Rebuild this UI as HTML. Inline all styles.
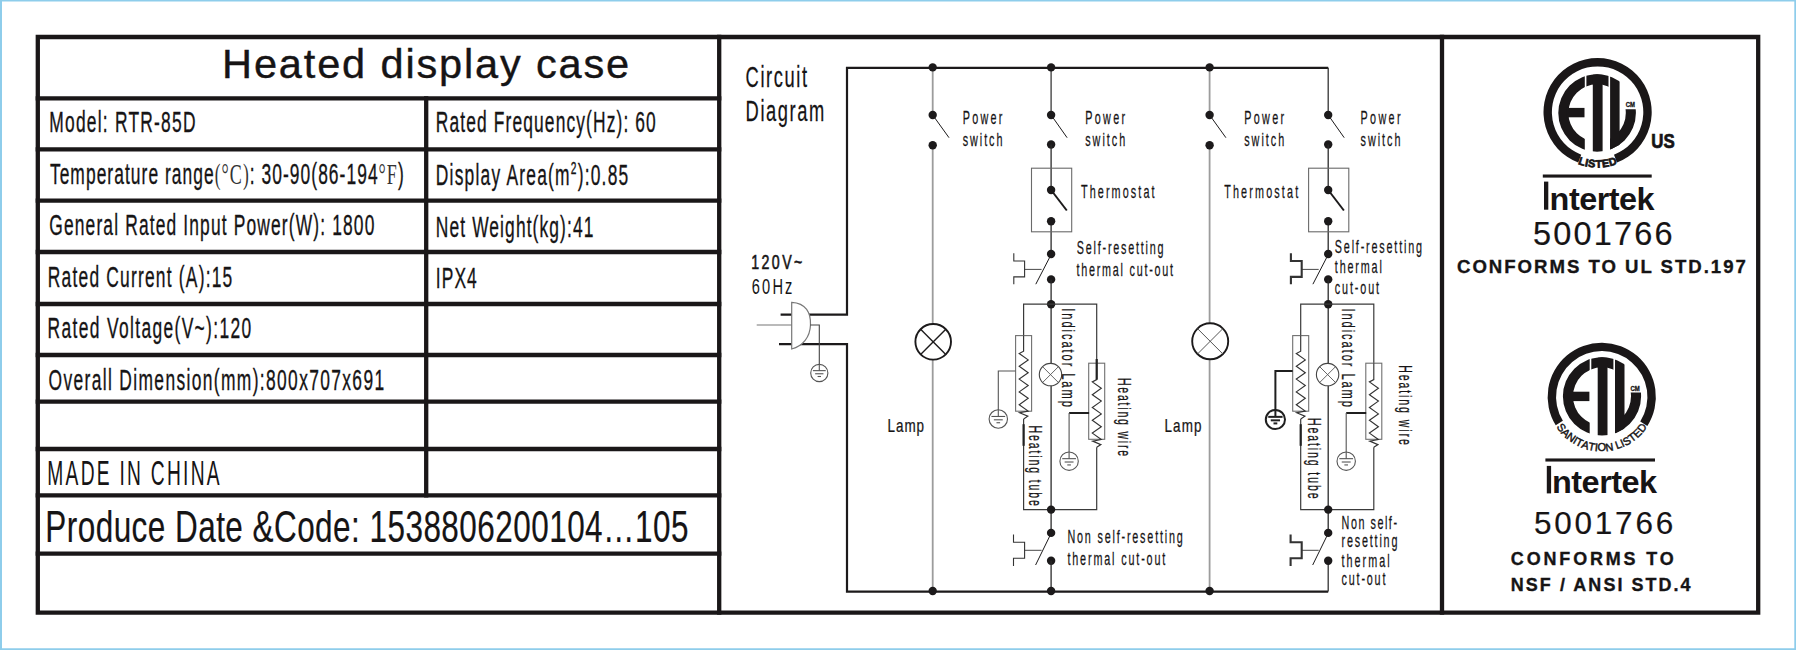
<!DOCTYPE html>
<html><head><meta charset="utf-8">
<style>
html,body{margin:0;padding:0;background:#fff;}
svg{display:block;}
text{font-family:"Liberation Sans",sans-serif;fill:#161415;}
.serif{font-family:"Liberation Serif",serif;}
.b{font-weight:bold;}
</style></head>
<body>
<svg width="1796" height="650" viewBox="0 0 1796 650">
<rect x="0" y="0" width="1796" height="650" fill="#ffffff"/>
<path d="M0 0H1796V650H0Z M2 1.6V648.2H1794.3V1.6Z" fill="#8ecdeb" fill-rule="evenodd"/>
<g stroke="#1a1718" stroke-width="4.3" fill="none" stroke-linecap="square">
<path d="M37.8 37H1758.2V612.6H37.8Z"/>
<path d="M719.2 37V612.6"/>
<path d="M1442 37V612.6"/>
<path d="M426.2 98.3V495.4"/>
<path d="M37.8 98.3H719.2"/>
<path d="M37.8 149.3H719.2"/>
<path d="M37.8 200.6H719.2"/>
<path d="M37.8 252H719.2"/>
<path d="M37.8 304H719.2"/>
<path d="M37.8 355H719.2"/>
<path d="M37.8 401.6H719.2"/>
<path d="M37.8 449H719.2"/>
<path d="M37.8 495.4H719.2"/>
<path d="M37.8 553.6H719.2"/>
</g>
<text x="222.10" y="77.60" font-size="41.5" textLength="407.10" lengthAdjust="spacing" stroke="#161415" stroke-width="0.4">Heated display case</text>
<text transform="translate(49.30,131.50) scale(0.6,1)" font-size="29" textLength="243.67" lengthAdjust="spacing" stroke="#161415" stroke-width="0.35">Model: RTR-85D</text>
<text transform="translate(435.80,132.30) scale(0.6,1)" font-size="29" textLength="366.67" lengthAdjust="spacing" stroke="#161415" stroke-width="0.35">Rated Frequency(Hz): 60</text>
<text transform="translate(49.90,183.80) scale(0.6,1)" font-size="29" textLength="589.67" lengthAdjust="spacing" stroke="#161415" stroke-width="0.35">Temperature range<tspan class="serif" fill="#333" stroke-width="0">(</tspan><tspan class="serif" font-size="30" fill="#333" stroke-width="0">°C</tspan><tspan class="serif" fill="#333" stroke-width="0">)</tspan>: 30-90(86-194<tspan class="serif" font-size="30" fill="#333" stroke-width="0">°F</tspan>)</text>
<text transform="translate(435.80,184.60) scale(0.6,1)" font-size="29" textLength="320.67" lengthAdjust="spacing" stroke="#161415" stroke-width="0.35">Display Area(m<tspan font-size="17" dy="-11">2</tspan><tspan dy="11">):0.85</tspan></text>
<text transform="translate(49.30,234.60) scale(0.6,1)" font-size="29" textLength="541.67" lengthAdjust="spacing" stroke="#161415" stroke-width="0.35">General Rated Input Power(W): 1800</text>
<text transform="translate(435.80,237.00) scale(0.6,1)" font-size="29" textLength="262.67" lengthAdjust="spacing" stroke="#161415" stroke-width="0.35">Net Weight(kg):41</text>
<text transform="translate(47.80,286.90) scale(0.6,1)" font-size="29" textLength="307.50" lengthAdjust="spacing" stroke="#161415" stroke-width="0.35">Rated Current (A):15</text>
<text transform="translate(435.80,288.30) scale(0.6,1)" font-size="29" textLength="68.33" lengthAdjust="spacing" stroke="#161415" stroke-width="0.35">IPX4</text>
<text transform="translate(47.60,337.70) scale(0.6,1)" font-size="29" textLength="339.33" lengthAdjust="spacing" stroke="#161415" stroke-width="0.35">Rated Voltage(V~):120</text>
<text transform="translate(48.50,389.60) scale(0.6,1)" font-size="29" textLength="559.33" lengthAdjust="spacing" stroke="#161415" stroke-width="0.35">Overall Dimension(mm):800x707x691</text>
<text transform="translate(47.30,484.90) scale(0.56,1)" font-size="34.3" textLength="307.68" lengthAdjust="spacing" >MADE IN CHINA</text>
<text transform="translate(45.30,541.60) scale(0.7,1)" font-size="45" textLength="918.86" lengthAdjust="spacing" stroke="#161415" stroke-width="0.2">Produce Date &amp;Code: 1538806200104…105</text>
<text transform="translate(745.60,87.40) scale(0.64,1)" font-size="28.6" textLength="96.09" lengthAdjust="spacing" stroke="#161415" stroke-width="0.25">Circuit</text>
<text transform="translate(745.60,121.40) scale(0.64,1)" font-size="28.6" textLength="122.81" lengthAdjust="spacing" stroke="#161415" stroke-width="0.25">Diagram</text>
<text transform="translate(751.30,268.80) scale(0.7,1)" font-size="20.3" textLength="72.86" lengthAdjust="spacing" stroke="#161415" stroke-width="0.6">120V~</text>
<text transform="translate(751.80,294.40) scale(0.68,1)" font-size="21.5" textLength="59.71" lengthAdjust="spacing" fill="#2a2a2a">60Hz</text>
<path d="M780.60 314.60 L847.00 314.60 L847.00 67.80 L1328.20 67.80" fill="none" stroke="#1c1a1b" stroke-width="2.2" />
<path d="M1328.20 67.80 L1328.20 115.00" fill="none" stroke="#333" stroke-width="1.3" />
<path d="M779.00 344.20 L847.00 344.20 L847.00 591.60 L1328.20 591.60" fill="none" stroke="#1c1a1b" stroke-width="2.2" />
<path d="M1328.20 591.60 L1328.20 561.00" fill="none" stroke="#333" stroke-width="1.3" />
<path d="M791.7 302.3 C806 303 811 313 810.5 325 C810 337 803 346 791.7 349 Z" fill="#fff" stroke="#777" stroke-width="1.2"/>
<path d="M756.70 325.00 L791.70 325.00" fill="none" stroke="#777" stroke-width="1.1" />
<path d="M810.30 325.00 L819.30 325.00 L819.30 364.50" fill="none" stroke="#444" stroke-width="1.1" />
<circle cx="819.30" cy="373.00" r="8.6" fill="none" stroke="#555" stroke-width="1.1"/>
<path d="M819.30 364.40 L819.30 370.64" fill="none" stroke="#555" stroke-width="1.1" />
<path d="M812.87 370.64 L825.73 370.64" fill="none" stroke="#555" stroke-width="1.1" />
<path d="M815.14 373.76 L823.46 373.76" fill="none" stroke="#555" stroke-width="1.1" />
<path d="M817.60 376.50 L821.00 376.50" fill="none" stroke="#555" stroke-width="1.1" />
<path d="M932.70 67.80 L932.70 115.00" fill="none" stroke="#9c9c9c" stroke-width="1.8" />
<path d="M932.70 145.30 L932.70 323.50" fill="none" stroke="#9c9c9c" stroke-width="1.8" />
<path d="M932.70 359.50 L932.70 591.60" fill="none" stroke="#9c9c9c" stroke-width="1.8" />
<circle cx="932.70" cy="67.40" r="4.2" fill="#1c1a1b"/>
<circle cx="932.70" cy="115.00" r="4.2" fill="#1c1a1b"/>
<circle cx="932.70" cy="145.30" r="4.2" fill="#1c1a1b"/>
<circle cx="932.70" cy="591.00" r="4.2" fill="#1c1a1b"/>
<path d="M932.70 115.00 L949.00 137.70" fill="none" stroke="#1c1a1b" stroke-width="1.0" />
<path d="M1209.60 67.80 L1209.60 115.00" fill="none" stroke="#9c9c9c" stroke-width="1.8" />
<path d="M1209.60 145.30 L1209.60 323.50" fill="none" stroke="#9c9c9c" stroke-width="1.8" />
<path d="M1209.60 359.50 L1209.60 591.60" fill="none" stroke="#9c9c9c" stroke-width="1.8" />
<circle cx="1209.60" cy="67.40" r="4.2" fill="#1c1a1b"/>
<circle cx="1209.60" cy="115.00" r="4.2" fill="#1c1a1b"/>
<circle cx="1209.60" cy="145.30" r="4.2" fill="#1c1a1b"/>
<circle cx="1209.60" cy="591.00" r="4.2" fill="#1c1a1b"/>
<path d="M1209.60 115.00 L1225.90 137.70" fill="none" stroke="#1c1a1b" stroke-width="1.0" />
<circle cx="933.20" cy="341.80" r="17.8" fill="none" stroke="#1c1a1b" stroke-width="1.9"/>
<path d="M920.61 329.21 L945.79 354.39" fill="none" stroke="#1c1a1b" stroke-width="1.4" />
<path d="M920.61 354.39 L945.79 329.21" fill="none" stroke="#1c1a1b" stroke-width="1.4" />
<circle cx="1210.20" cy="341.30" r="18" fill="none" stroke="#1c1a1b" stroke-width="1.9"/>
<path d="M1197.47 328.57 L1222.93 354.03" fill="none" stroke="#555" stroke-width="1.0" />
<path d="M1197.47 354.03 L1222.93 328.57" fill="none" stroke="#555" stroke-width="1.0" />
<text transform="translate(887.60,431.50) scale(0.74,1)" font-size="18.2" textLength="49.32" lengthAdjust="spacing" stroke="#161415" stroke-width="0.25">Lamp</text>
<text transform="translate(1164.60,431.50) scale(0.74,1)" font-size="18.2" textLength="49.73" lengthAdjust="spacing" stroke="#161415" stroke-width="0.25">Lamp</text>
<path d="M1051.10 67.80 L1051.10 115.00" fill="none" stroke="#3a3a3a" stroke-width="1.3" />
<circle cx="1051.10" cy="67.40" r="4.2" fill="#1c1a1b"/>
<circle cx="1051.10" cy="115.00" r="4.2" fill="#1c1a1b"/>
<circle cx="1051.10" cy="144.50" r="4.2" fill="#1c1a1b"/>
<path d="M1051.10 115.00 L1067.10 137.70" fill="none" stroke="#1c1a1b" stroke-width="1.0" />
<path d="M1051.10 144.50 L1051.10 190.00" fill="none" stroke="#2a2a2a" stroke-width="1.3" />
<path d="M1051.10 221.20 L1051.10 254.00" fill="none" stroke="#2a2a2a" stroke-width="1.3" />
<rect x="1031.50" y="168.20" width="40.20" height="63.60" fill="none" stroke="#6a6a6a" stroke-width="1.1"/>
<circle cx="1051.10" cy="190.00" r="4.2" fill="#1c1a1b"/>
<circle cx="1051.10" cy="221.20" r="4.2" fill="#1c1a1b"/>
<path d="M1051.10 190.00 L1066.80 210.50" fill="none" stroke="#1c1a1b" stroke-width="2.0" />
<circle cx="1051.10" cy="254.00" r="4.2" fill="#1c1a1b"/>
<circle cx="1051.10" cy="279.40" r="4.2" fill="#1c1a1b"/>
<path d="M1051.10 279.40 L1051.10 363.00" fill="none" stroke="#2a2a2a" stroke-width="1.3" />
<path d="M1051.10 386.00 L1051.10 532.90" fill="none" stroke="#2a2a2a" stroke-width="1.3" />
<path d="M1049.60 257.50 L1035.80 284.20" fill="none" stroke="#1c1a1b" stroke-width="1.0" />
<path d="M1013.80 253.30 L1013.80 261.00 L1024.60 261.00 L1024.60 276.90 L1013.80 276.90 L1013.80 284.30" fill="none" stroke="#333" stroke-width="1.1" />
<path d="M1024.60 269.40 L1041.60 269.40" fill="none" stroke="#333" stroke-width="0.9" />
<circle cx="1051.10" cy="304.20" r="4.2" fill="#1c1a1b"/>
<path d="M1023.60 335.60 L1023.60 304.20 L1096.70 304.20 L1096.70 363.20" fill="none" stroke="#3a3a3a" stroke-width="1.2" />
<rect x="1015.60" y="335.60" width="16.00" height="75.60" fill="none" stroke="#6f6f6f" stroke-width="1.1"/>
<path d="M1023.60 335.60 L1023.60 351.20 L1019.20 353.50 L1028.20 359.90 L1019.20 366.30 L1028.20 372.70 L1019.20 379.10 L1028.20 385.50 L1019.20 391.90 L1028.20 398.30 L1019.20 404.70 L1028.20 411.10 L1019.60 412.70 L1027.80 416.20 L1023.60 418.90" fill="none" stroke="#333" stroke-width="1.15" />
<path d="M1023.60 418.90 L1023.60 509.60 L1096.70 509.60 L1096.70 447.30" fill="none" stroke="#3a3a3a" stroke-width="1.2" />
<path d="M1023.60 424.2 V445.8" stroke="#222" stroke-width="2.2"/>
<rect x="1088.70" y="363.20" width="16.00" height="76.10" fill="none" stroke="#6f6f6f" stroke-width="1.1"/>
<path d="M1096.70 363.20 L1096.70 379.60 L1092.30 381.90 L1101.30 388.30 L1092.30 394.70 L1101.30 401.10 L1092.30 407.50 L1101.30 413.90 L1092.30 420.30 L1101.30 426.70 L1092.30 433.10 L1101.30 439.50 L1092.70 441.10 L1100.90 444.60 L1096.70 447.30" fill="none" stroke="#333" stroke-width="1.15" />
<path d="M1096.70 359 V379.6" stroke="#222" stroke-width="2.2"/>
<path d="M1015.60 371.00 L998.30 371.00 L998.30 410.00" fill="none" stroke="#555" stroke-width="1.1" />
<circle cx="998.30" cy="419.00" r="9.2" fill="none" stroke="#555" stroke-width="1.1"/>
<path d="M998.30 409.80 L998.30 416.47" fill="none" stroke="#555" stroke-width="1.1" />
<path d="M991.43 416.47 L1005.17 416.47" fill="none" stroke="#555" stroke-width="1.1" />
<path d="M993.85 419.81 L1002.75 419.81" fill="none" stroke="#555" stroke-width="1.1" />
<path d="M996.48 422.74 L1000.12 422.74" fill="none" stroke="#555" stroke-width="1.1" />
<path d="M1089.10 413.00 L1069.10 413.00" fill="none" stroke="#1f1f1f" stroke-width="2.0" />
<path d="M1069.10 413.00 L1069.10 452.00" fill="none" stroke="#555" stroke-width="1.1" />
<circle cx="1069.10" cy="461.20" r="9.2" fill="none" stroke="#555" stroke-width="1.1"/>
<path d="M1069.10 452.00 L1069.10 458.67" fill="none" stroke="#555" stroke-width="1.1" />
<path d="M1062.23 458.67 L1075.97 458.67" fill="none" stroke="#555" stroke-width="1.1" />
<path d="M1064.65 462.01 L1073.55 462.01" fill="none" stroke="#555" stroke-width="1.1" />
<path d="M1067.28 464.94 L1070.92 464.94" fill="none" stroke="#555" stroke-width="1.1" />
<circle cx="1050.50" cy="374.60" r="11.2" fill="none" stroke="#444" stroke-width="1.1"/>
<path d="M1042.58 366.68 L1058.42 382.52" fill="none" stroke="#555" stroke-width="0.9" />
<path d="M1042.58 382.52 L1058.42 366.68" fill="none" stroke="#555" stroke-width="0.9" />
<circle cx="1051.10" cy="509.60" r="4.2" fill="#1c1a1b"/>
<circle cx="1051.10" cy="532.90" r="4.2" fill="#1c1a1b"/>
<circle cx="1051.10" cy="560.70" r="4.2" fill="#1c1a1b"/>
<path d="M1049.80 536.00 L1035.60 565.00" fill="none" stroke="#1c1a1b" stroke-width="1.0" />
<path d="M1013.50 534.50 L1013.50 542.20 L1024.60 542.20 L1024.60 558.30 L1013.50 558.30 L1013.50 566.00" fill="none" stroke="#333" stroke-width="1.1" />
<path d="M1024.60 550.30 L1041.60 550.30" fill="none" stroke="#333" stroke-width="0.9" />
<path d="M1051.10 560.70 L1051.10 591.60" fill="none" stroke="#2a2a2a" stroke-width="1.3" />
<circle cx="1051.10" cy="591.00" r="4.2" fill="#1c1a1b"/>
<circle cx="1328.20" cy="115.00" r="4.2" fill="#1c1a1b"/>
<circle cx="1328.20" cy="144.50" r="4.2" fill="#1c1a1b"/>
<path d="M1328.20 115.00 L1344.20 137.70" fill="none" stroke="#1c1a1b" stroke-width="1.0" />
<path d="M1328.20 144.50 L1328.20 190.00" fill="none" stroke="#2a2a2a" stroke-width="1.3" />
<path d="M1328.20 221.20 L1328.20 254.00" fill="none" stroke="#2a2a2a" stroke-width="1.3" />
<rect x="1308.60" y="168.20" width="40.20" height="63.60" fill="none" stroke="#6a6a6a" stroke-width="1.1"/>
<circle cx="1328.20" cy="190.00" r="4.2" fill="#1c1a1b"/>
<circle cx="1328.20" cy="221.20" r="4.2" fill="#1c1a1b"/>
<path d="M1328.20 190.00 L1343.90 210.50" fill="none" stroke="#1c1a1b" stroke-width="2.0" />
<circle cx="1328.20" cy="254.00" r="4.2" fill="#1c1a1b"/>
<circle cx="1328.20" cy="279.40" r="4.2" fill="#1c1a1b"/>
<path d="M1328.20 279.40 L1328.20 363.00" fill="none" stroke="#2a2a2a" stroke-width="1.3" />
<path d="M1328.20 386.00 L1328.20 532.90" fill="none" stroke="#2a2a2a" stroke-width="1.3" />
<path d="M1326.70 257.50 L1312.90 284.20" fill="none" stroke="#1c1a1b" stroke-width="1.0" />
<path d="M1290.90 253.30 L1290.90 261.00 L1301.70 261.00 L1301.70 276.90 L1290.90 276.90 L1290.90 284.30" fill="none" stroke="#333" stroke-width="2.1" />
<path d="M1301.70 269.40 L1318.70 269.40" fill="none" stroke="#333" stroke-width="0.9" />
<circle cx="1328.20" cy="304.20" r="4.2" fill="#1c1a1b"/>
<path d="M1300.70 335.60 L1300.70 304.20 L1373.80 304.20 L1373.80 363.20" fill="none" stroke="#3a3a3a" stroke-width="1.2" />
<rect x="1292.70" y="335.60" width="16.00" height="75.60" fill="none" stroke="#6f6f6f" stroke-width="1.1"/>
<path d="M1300.70 335.60 L1300.70 351.20 L1296.30 353.50 L1305.30 359.90 L1296.30 366.30 L1305.30 372.70 L1296.30 379.10 L1305.30 385.50 L1296.30 391.90 L1305.30 398.30 L1296.30 404.70 L1305.30 411.10 L1296.70 412.70 L1304.90 416.20 L1300.70 418.90" fill="none" stroke="#333" stroke-width="1.15" />
<path d="M1300.70 418.90 L1300.70 509.60 L1373.80 509.60 L1373.80 447.30" fill="none" stroke="#3a3a3a" stroke-width="1.2" />
<path d="M1300.70 424.2 V445.8" stroke="#222" stroke-width="2.2"/>
<rect x="1365.80" y="363.20" width="16.00" height="76.10" fill="none" stroke="#6f6f6f" stroke-width="1.1"/>
<path d="M1373.80 363.20 L1373.80 379.60 L1369.40 381.90 L1378.40 388.30 L1369.40 394.70 L1378.40 401.10 L1369.40 407.50 L1378.40 413.90 L1369.40 420.30 L1378.40 426.70 L1369.40 433.10 L1378.40 439.50 L1369.80 441.10 L1378.00 444.60 L1373.80 447.30" fill="none" stroke="#333" stroke-width="1.15" />
<path d="M1292.70 371.00 L1275.40 371.00 L1275.40 410.00" fill="none" stroke="#1f1f1f" stroke-width="2.0" />
<circle cx="1275.40" cy="419.50" r="9.6" fill="none" stroke="#1f1f1f" stroke-width="2.0"/>
<path d="M1275.40 409.90 L1275.40 416.86" fill="none" stroke="#1f1f1f" stroke-width="2.0" />
<path d="M1268.23 416.86 L1282.57 416.86" fill="none" stroke="#1f1f1f" stroke-width="2.0" />
<path d="M1270.76 420.34 L1280.04 420.34" fill="none" stroke="#1f1f1f" stroke-width="2.0" />
<path d="M1273.50 423.40 L1277.30 423.40" fill="none" stroke="#1f1f1f" stroke-width="2.0" />
<path d="M1366.20 413.00 L1346.20 413.00" fill="none" stroke="#1f1f1f" stroke-width="2.0" />
<path d="M1346.20 413.00 L1346.20 452.00" fill="none" stroke="#555" stroke-width="1.1" />
<circle cx="1346.20" cy="461.20" r="9.2" fill="none" stroke="#555" stroke-width="1.1"/>
<path d="M1346.20 452.00 L1346.20 458.67" fill="none" stroke="#555" stroke-width="1.1" />
<path d="M1339.33 458.67 L1353.07 458.67" fill="none" stroke="#555" stroke-width="1.1" />
<path d="M1341.75 462.01 L1350.65 462.01" fill="none" stroke="#555" stroke-width="1.1" />
<path d="M1344.38 464.94 L1348.02 464.94" fill="none" stroke="#555" stroke-width="1.1" />
<circle cx="1327.60" cy="374.60" r="11.2" fill="none" stroke="#444" stroke-width="1.1"/>
<path d="M1319.68 366.68 L1335.52 382.52" fill="none" stroke="#555" stroke-width="0.9" />
<path d="M1319.68 382.52 L1335.52 366.68" fill="none" stroke="#555" stroke-width="0.9" />
<circle cx="1328.20" cy="509.60" r="4.2" fill="#1c1a1b"/>
<circle cx="1328.20" cy="532.90" r="4.2" fill="#1c1a1b"/>
<circle cx="1328.20" cy="560.70" r="4.2" fill="#1c1a1b"/>
<path d="M1326.90 536.00 L1312.70 565.00" fill="none" stroke="#1c1a1b" stroke-width="1.0" />
<path d="M1290.60 534.50 L1290.60 542.20 L1301.70 542.20 L1301.70 558.30 L1290.60 558.30 L1290.60 566.00" fill="none" stroke="#333" stroke-width="2.1" />
<path d="M1301.70 550.30 L1318.70 550.30" fill="none" stroke="#333" stroke-width="0.9" />
<text transform="translate(962.80,123.70) scale(0.58,1)" font-size="18.6" textLength="68.28" lengthAdjust="spacing" stroke="#161415" stroke-width="0.25">Power</text>
<text transform="translate(962.80,145.70) scale(0.58,1)" font-size="18.6" textLength="68.28" lengthAdjust="spacing" stroke="#161415" stroke-width="0.25">switch</text>
<text transform="translate(1085.20,123.70) scale(0.58,1)" font-size="18.6" textLength="68.97" lengthAdjust="spacing" stroke="#161415" stroke-width="0.25">Power</text>
<text transform="translate(1085.20,145.70) scale(0.58,1)" font-size="18.6" textLength="68.97" lengthAdjust="spacing" stroke="#161415" stroke-width="0.25">switch</text>
<text transform="translate(1244.20,123.70) scale(0.58,1)" font-size="18.6" textLength="68.97" lengthAdjust="spacing" stroke="#161415" stroke-width="0.25">Power</text>
<text transform="translate(1244.20,145.70) scale(0.58,1)" font-size="18.6" textLength="68.97" lengthAdjust="spacing" stroke="#161415" stroke-width="0.25">switch</text>
<text transform="translate(1360.50,123.70) scale(0.58,1)" font-size="18.6" textLength="68.97" lengthAdjust="spacing" stroke="#161415" stroke-width="0.25">Power</text>
<text transform="translate(1360.50,145.70) scale(0.58,1)" font-size="18.6" textLength="68.97" lengthAdjust="spacing" stroke="#161415" stroke-width="0.25">switch</text>
<text transform="translate(1081.00,198.00) scale(0.58,1)" font-size="18.6" textLength="126.72" lengthAdjust="spacing" stroke="#161415" stroke-width="0.25">Thermostat</text>
<text transform="translate(1224.20,197.60) scale(0.58,1)" font-size="18.6" textLength="127.59" lengthAdjust="spacing" stroke="#161415" stroke-width="0.25">Thermostat</text>
<text transform="translate(1076.80,253.80) scale(0.58,1)" font-size="18.6" textLength="149.48" lengthAdjust="spacing" stroke="#161415" stroke-width="0.25">Self-resetting</text>
<text transform="translate(1076.50,275.80) scale(0.58,1)" font-size="18.6" textLength="166.38" lengthAdjust="spacing" stroke="#161415" stroke-width="0.25">thermal cut-out</text>
<text transform="translate(1334.80,252.70) scale(0.58,1)" font-size="18.6" textLength="150.34" lengthAdjust="spacing" stroke="#161415" stroke-width="0.25">Self-resetting</text>
<text transform="translate(1334.80,273.40) scale(0.58,1)" font-size="18.6" textLength="81.03" lengthAdjust="spacing" stroke="#161415" stroke-width="0.25">thermal</text>
<text transform="translate(1334.80,294.20) scale(0.58,1)" font-size="18.6" textLength="76.21" lengthAdjust="spacing" stroke="#161415" stroke-width="0.25">cut-out</text>
<text transform="translate(1067.40,542.50) scale(0.58,1)" font-size="18.6" textLength="198.97" lengthAdjust="spacing" stroke="#161415" stroke-width="0.25">Non self-resetting</text>
<text transform="translate(1067.40,564.60) scale(0.58,1)" font-size="18.6" textLength="168.79" lengthAdjust="spacing" stroke="#161415" stroke-width="0.25">thermal cut-out</text>
<text transform="translate(1341.60,528.60) scale(0.58,1)" font-size="18.6" textLength="95.52" lengthAdjust="spacing" stroke="#161415" stroke-width="0.25">Non self-</text>
<text transform="translate(1341.60,547.10) scale(0.58,1)" font-size="18.6" textLength="96.21" lengthAdjust="spacing" stroke="#161415" stroke-width="0.25">resetting</text>
<text transform="translate(1341.60,566.50) scale(0.58,1)" font-size="18.6" textLength="82.76" lengthAdjust="spacing" stroke="#161415" stroke-width="0.25">thermal</text>
<text transform="translate(1341.60,584.90) scale(0.58,1)" font-size="18.6" textLength="75.52" lengthAdjust="spacing" stroke="#161415" stroke-width="0.25">cut-out</text>
<text transform="translate(1062.20,308.30) rotate(90) scale(0.6,1)" font-size="18.6" textLength="164.33" lengthAdjust="spacing" stroke="#161415" stroke-width="0.25">Indicator Lamp</text>
<text transform="translate(1341.80,308.50) rotate(90) scale(0.6,1)" font-size="18.6" textLength="164.17" lengthAdjust="spacing" stroke="#161415" stroke-width="0.25">Indicator Lamp</text>
<text transform="translate(1029.20,425.50) rotate(90) scale(0.55,1)" font-size="19" textLength="146.00" lengthAdjust="spacing" stroke="#161415" stroke-width="0.25">Heating tube</text>
<text transform="translate(1308.00,418.00) rotate(90) scale(0.55,1)" font-size="19" textLength="146.36" lengthAdjust="spacing" stroke="#161415" stroke-width="0.25">Heating tube</text>
<text transform="translate(1117.80,378.00) rotate(90) scale(0.55,1)" font-size="19" textLength="141.82" lengthAdjust="spacing" stroke="#161415" stroke-width="0.25">Heating wire</text>
<text transform="translate(1398.50,365.20) rotate(90) scale(0.55,1)" font-size="19" textLength="144.55" lengthAdjust="spacing" stroke="#161415" stroke-width="0.25">Heating wire</text>
<path d="M1578.21 162.61 A54.1 54.1 0 1 1 1616.99 162.61 L1613.98 154.76 A45.7 45.7 0 1 0 1581.22 154.76 Z" fill="#1a1718"/>
<clipPath id="d1597113"><circle cx="1597.1" cy="113" r="38.8"/></clipPath>
<clipPath id="e1597113"><rect x="1555.30" y="71.20" width="29.50" height="83.60"/></clipPath>
<clipPath id="t1597113"><rect x="1586.40" y="71.20" width="22.10" height="41.80"/></clipPath>
<clipPath id="l1597113"><rect x="1610.10" y="109.20" width="41.80" height="45.60"/></clipPath>
<path d="M1558.30 113.00 A38.8 38.8 0 1 0 1635.90 113.00 A38.8 38.8 0 1 0 1558.30 113.00 Z M1568.40 113.00 A28.7 28.7 0 1 0 1625.80 113.00 A28.7 28.7 0 1 0 1568.40 113.00 Z" fill="#1a1718" fill-rule="evenodd" clip-path="url(#e1597113)"/>
<path d="M1558.30 113.00 A38.8 38.8 0 1 0 1635.90 113.00 A38.8 38.8 0 1 0 1558.30 113.00 Z M1568.40 113.00 A28.7 28.7 0 1 0 1625.80 113.00 A28.7 28.7 0 1 0 1568.40 113.00 Z" fill="#1a1718" fill-rule="evenodd" clip-path="url(#t1597113)"/>
<path d="M1558.30 113.00 A38.8 38.8 0 1 0 1635.90 113.00 A38.8 38.8 0 1 0 1558.30 113.00 Z M1568.40 113.00 A28.7 28.7 0 1 0 1625.80 113.00 A28.7 28.7 0 1 0 1568.40 113.00 Z" fill="#1a1718" fill-rule="evenodd" clip-path="url(#l1597113)"/>
<g clip-path="url(#d1597113)" fill="#1a1718">
<rect x="1566.40" y="107.90" width="18.10" height="9.40"/>
<rect x="1592.80" y="72.20" width="9.8" height="81.60"/>
<rect x="1610.10" y="72.20" width="9.5" height="81.60"/>
</g>
<text x="1625.80" y="107.20" font-size="6.4" class="b" textLength="9.20" lengthAdjust="spacingAndGlyphs" stroke="#161415" stroke-width="0.3">CM</text>
<g font-size="10.8" class="b" stroke="#161415" stroke-width="0.7"><text transform="translate(1580.96,165.05) rotate(17.45)" text-anchor="middle">L</text><text transform="translate(1585.98,166.37) rotate(12.08)" text-anchor="middle">I</text><text transform="translate(1591.41,167.25) rotate(6.40)" text-anchor="middle">S</text><text transform="translate(1598.70,167.59) rotate(-1.13)" text-anchor="middle">T</text><text transform="translate(1605.97,166.97) rotate(-8.67)" text-anchor="middle">E</text><text transform="translate(1613.67,165.22) rotate(-16.83)" text-anchor="middle">D</text></g>
<path d="M1555.72 425.23 A54.1 54.1 0 1 1 1647.33 425.95 L1640.25 421.42 A45.7 45.7 0 1 0 1562.87 420.81 Z" fill="#1a1718"/>
<clipPath id="d1602396"><circle cx="1602" cy="396.3" r="39.1"/></clipPath>
<clipPath id="e1602396"><rect x="1559.90" y="354.20" width="29.80" height="84.20"/></clipPath>
<clipPath id="t1602396"><rect x="1591.30" y="354.20" width="22.10" height="42.10"/></clipPath>
<clipPath id="l1602396"><rect x="1615.00" y="392.50" width="42.10" height="45.90"/></clipPath>
<path d="M1562.90 396.30 A39.1 39.1 0 1 0 1641.10 396.30 A39.1 39.1 0 1 0 1562.90 396.30 Z M1573.00 396.30 A29.0 29.0 0 1 0 1631.00 396.30 A29.0 29.0 0 1 0 1573.00 396.30 Z" fill="#1a1718" fill-rule="evenodd" clip-path="url(#e1602396)"/>
<path d="M1562.90 396.30 A39.1 39.1 0 1 0 1641.10 396.30 A39.1 39.1 0 1 0 1562.90 396.30 Z M1573.00 396.30 A29.0 29.0 0 1 0 1631.00 396.30 A29.0 29.0 0 1 0 1573.00 396.30 Z" fill="#1a1718" fill-rule="evenodd" clip-path="url(#t1602396)"/>
<path d="M1562.90 396.30 A39.1 39.1 0 1 0 1641.10 396.30 A39.1 39.1 0 1 0 1562.90 396.30 Z M1573.00 396.30 A29.0 29.0 0 1 0 1631.00 396.30 A29.0 29.0 0 1 0 1573.00 396.30 Z" fill="#1a1718" fill-rule="evenodd" clip-path="url(#l1602396)"/>
<g clip-path="url(#d1602396)" fill="#1a1718">
<rect x="1571.00" y="391.70" width="18.40" height="9.40"/>
<rect x="1597.70" y="355.20" width="9.8" height="82.20"/>
<rect x="1615.00" y="355.20" width="9.5" height="82.20"/>
</g>
<text x="1630.50" y="391.20" font-size="6.4" class="b" textLength="9.30" lengthAdjust="spacingAndGlyphs" stroke="#161415" stroke-width="0.3">CM</text>
<g font-size="11.0" stroke="#161415" stroke-width="0.45"><text transform="translate(1558.38,429.97) rotate(52.59)" text-anchor="middle">S</text><text transform="translate(1563.21,435.48) rotate(44.89)" text-anchor="middle">A</text><text transform="translate(1568.99,440.48) rotate(36.87)" text-anchor="middle">N</text><text transform="translate(1573.55,443.55) rotate(31.10)" text-anchor="middle">I</text><text transform="translate(1577.84,445.89) rotate(25.97)" text-anchor="middle">T</text><text transform="translate(1584.34,448.55) rotate(18.60)" text-anchor="middle">A</text><text transform="translate(1591.12,450.36) rotate(11.22)" text-anchor="middle">T</text><text transform="translate(1595.95,451.09) rotate(6.10)" text-anchor="middle">I</text><text transform="translate(1601.75,451.40) rotate(0.00)" text-anchor="middle">O</text><text transform="translate(1609.97,450.78) rotate(-8.65)" text-anchor="middle">N</text><text transform="translate(1619.74,448.35) rotate(-19.24)" text-anchor="middle">L</text><text transform="translate(1624.00,446.66) rotate(-24.05)" text-anchor="middle">I</text><text transform="translate(1628.64,444.32) rotate(-29.51)" text-anchor="middle">S</text><text transform="translate(1634.52,440.47) rotate(-36.88)" text-anchor="middle">T</text><text transform="translate(1639.85,435.91) rotate(-44.26)" text-anchor="middle">E</text><text transform="translate(1644.94,430.21) rotate(-52.27)" text-anchor="middle">D</text></g>
<text x="1651.3" y="148.3" font-size="19.5" class="b" textLength="23.4" lengthAdjust="spacingAndGlyphs" stroke="#161415" stroke-width="0.7">US</text>
<rect x="1542.80" y="174.50" width="108.90" height="3.1" fill="#1a1718"/>
<rect x="1544.00" y="181.60" width="4.3" height="28.10" fill="#1a1718"/>
<text x="1549.60" y="209.70" font-size="32" class="b" textLength="104.50" lengthAdjust="spacingAndGlyphs" letter-spacing="-0.5">ntertek</text>
<rect x="1545.40" y="458.45" width="109.60" height="3.1" fill="#1a1718"/>
<rect x="1546.80" y="465.90" width="4.3" height="27.50" fill="#1a1718"/>
<text x="1552.00" y="493.40" font-size="31" class="b" textLength="104.60" lengthAdjust="spacingAndGlyphs" letter-spacing="-0.5">ntertek</text>
<text x="1533.00" y="245.30" font-size="32.5" textLength="139.50" lengthAdjust="spacing" stroke="#161415" stroke-width="0.2">5001766</text>
<text x="1534.00" y="534.20" font-size="31.5" textLength="139.20" lengthAdjust="spacing" stroke="#161415" stroke-width="0.2">5001766</text>
<text transform="translate(1457.00,273.00) scale(0.97,1)" font-size="19.2" textLength="297.73" lengthAdjust="spacing" class="b" stroke="#161415" stroke-width="0.35">CONFORMS TO UL STD.197</text>
<text transform="translate(1510.80,565.40) scale(0.97,1)" font-size="18.5" textLength="168.04" lengthAdjust="spacing" class="b" stroke="#161415" stroke-width="0.35">CONFORMS TO</text>
<text transform="translate(1510.80,590.80) scale(0.97,1)" font-size="18.5" textLength="185.36" lengthAdjust="spacing" class="b" stroke="#161415" stroke-width="0.35">NSF / ANSI STD.4</text>
</svg>
</body></html>
